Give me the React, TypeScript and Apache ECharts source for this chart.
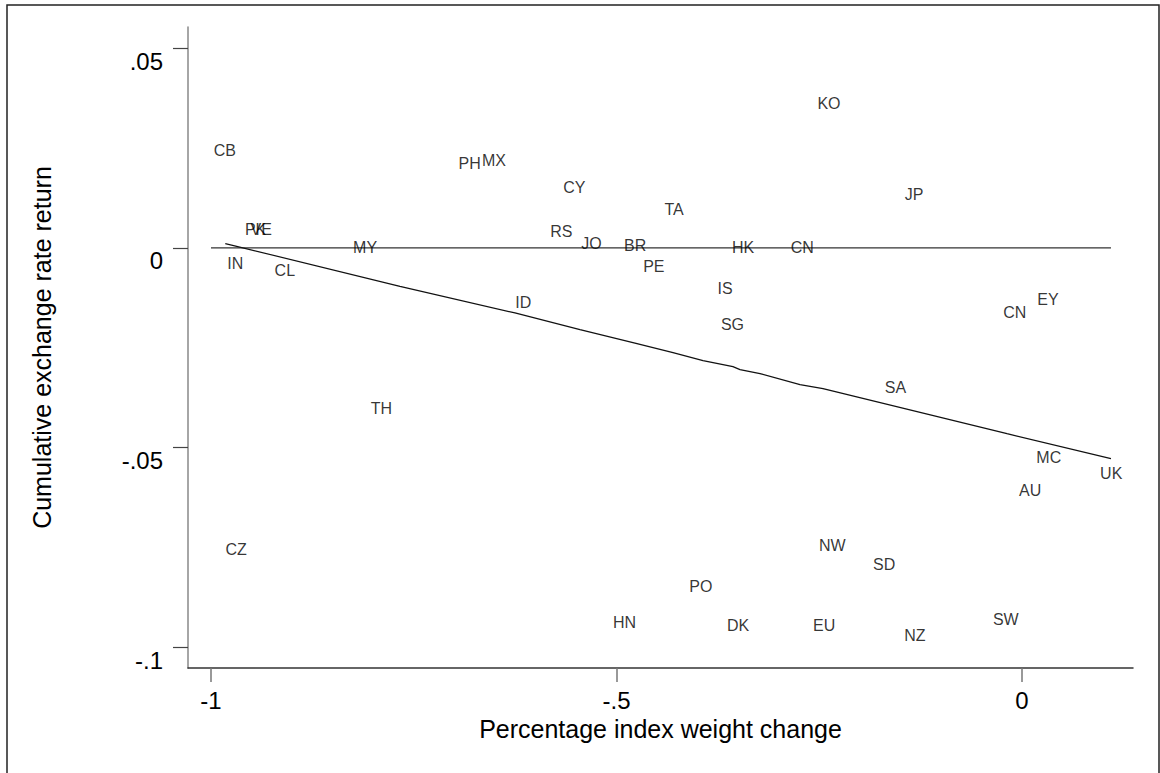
import React, { useEffect, useRef } from "react";
import * as echarts from "echarts";

const countries = ["CB","PK","VE","MY","IN","CL","PH","MX","CY","TA","RS","JO","BR","PE","HK","IS","CN","KO","JP","ID","SG","CN","EY","SA","MC","AU","UK","TH","CZ","PO","HN","DK","NW","SD","EU","NZ","SW"];
const weightChange = [-0.983,-0.945,-0.938,-0.810,-0.970,-0.909,-0.681,-0.651,-0.552,-0.429,-0.568,-0.531,-0.477,-0.454,-0.344,-0.366,-0.271,-0.238,-0.133,-0.615,-0.357,-0.009,0.032,-0.156,0.033,0.010,0.110,-0.790,-0.969,-0.396,-0.490,-0.350,-0.234,-0.170,-0.244,-0.132,-0.020];
const fxReturn = [0.0245,0.0047,0.0047,0.0001,-0.0039,-0.0057,0.0212,0.0219,0.0151,0.0097,0.0041,0.0010,0.0006,-0.0047,0.0001,-0.0102,0.0001,0.0363,0.0135,-0.0136,-0.0191,-0.0161,-0.0128,-0.0350,-0.0525,-0.0608,-0.0565,-0.0403,-0.0756,-0.0847,-0.0939,-0.0947,-0.0745,-0.0792,-0.0947,-0.0972,-0.0931];

const fitX = [-0.9824,-0.9683,-0.767,-0.6252,-0.545,-0.4797,-0.4303,-0.3933,-0.3564,-0.3477,-0.323,-0.2737,-0.2454,-0.0185,0.1097];
const fitY = [0.00108,0.0004,-0.00962,-0.01628,-0.02047,-0.02372,-0.02623,-0.02823,-0.02974,-0.03049,-0.03149,-0.03424,-0.03525,-0.04652,-0.05278];

const zeroLineX = [-1, 0.1097];
const zeroLineY = [0, 0];

const xTicks = [-1, -0.5, 0];
const xTickLabels = ["-1", "-.5", "0"];
const yTicks = [0.05, 0, -0.05, -0.1];
const yTickLabels = [".05", "0", "-.05", "-.1"];

const FONT = "'Liberation Sans', Arial, Helvetica, sans-serif";

export default function App() {
  const ref = useRef<HTMLDivElement>(null);
  useEffect(() => {
    document.body.style.margin = "0";
    if (!ref.current) return;
    const chart = echarts.init(ref.current, null, { renderer: "svg" });
    const fmt = (vals: number[], labels: string[]) => (v: number) => {
      for (let i = 0; i < vals.length; i++) if (Math.abs(vals[i] - v) < 1e-9) return labels[i];
      return "";
    };
    chart.setOption({
      animation: false,
      backgroundColor: "#ffffff",
      textStyle: { fontFamily: FONT },
      grid: { left: 188, right: 27, top: 27, bottom: 105, containLabel: false },
      xAxis: {
        type: "value",
        min: -1.02836,
        max: 0.13687,
        name: "Percentage index weight change",
        nameLocation: "middle",
        nameGap: 46,
        nameTextStyle: { fontSize: 25, color: "#000", fontFamily: FONT },
        axisLine: { show: true, onZero: false, lineStyle: { color: "#333", width: 1.5 } },
        axisTick: { show: true, length: 14, customValues: xTicks, lineStyle: { color: "#777", width: 1.5 } },
        axisLabel: { show: true, customValues: xTicks, formatter: fmt(xTicks, xTickLabels), fontSize: 24, color: "#000", margin: 20, fontFamily: FONT },
        splitLine: { show: false },
      },
      yAxis: {
        type: "value",
        min: -0.10523,
        max: 0.05534,
        name: "Cumulative exchange rate return",
        nameLocation: "middle",
        nameGap: 134,
        nameRotate: 90,
        nameTextStyle: { fontSize: 25, color: "#000", fontFamily: FONT },
        axisLine: { show: true, onZero: false, lineStyle: { color: "#888", width: 1.5 } },
        axisTick: { show: true, length: 15, customValues: yTicks, lineStyle: { color: "#444", width: 1.2 } },
        axisLabel: { show: true, customValues: yTicks, formatter: fmt(yTicks, yTickLabels), fontSize: 24, color: "#000", margin: 25, verticalAlign: "top", lineHeight: 26, fontFamily: FONT },
        splitLine: { show: false },
      },
      graphic: [
        {
          type: "rect",
          shape: { x: 7, y: 5, width: 1152, height: 800 },
          style: { fill: "none", stroke: "#222", lineWidth: 1.5 },
          silent: true,
          z: -1,
        },
      ],
      series: [
        {
          type: "line",
          data: zeroLineX.map((x, i) => [x, zeroLineY[i]]),
          showSymbol: false,
          symbol: "none",
          lineStyle: { color: "#333", width: 1.2 },
          z: 1,
        },
        {
          type: "line",
          data: fitX.map((x, i) => [x, fitY[i]]),
          showSymbol: false,
          symbol: "none",
          lineStyle: { color: "#111", width: 1.2 },
          z: 1,
        },
        {
          type: "scatter",
          data: countries.map((c, i) => ({ name: c, value: [weightChange[i], fxReturn[i]] })),
          symbol: "circle",
          symbolSize: 1,
          itemStyle: { color: "rgba(0,0,0,0)" },
          label: {
            show: true,
            position: "inside",
            formatter: (p: any) => p.name,
            fontSize: 16,
            color: "#000",
            fontFamily: FONT,
          },
          z: 2,
        },
      ],
    });
    return () => chart.dispose();
  }, []);
  return <div ref={ref} style={{ width: 1160, height: 773 }} />;
}
